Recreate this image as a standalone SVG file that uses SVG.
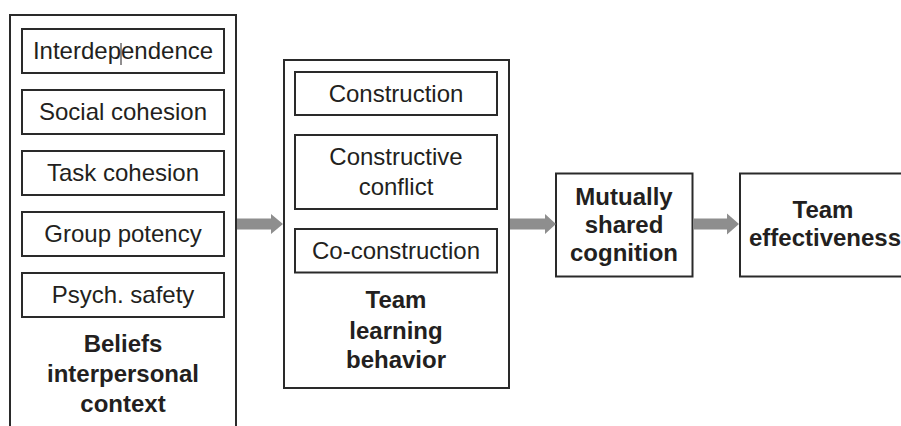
<svg xmlns="http://www.w3.org/2000/svg" width="901" height="426" viewBox="0 0 901 426">
  <defs>
    <style>
      .frame { fill: #ffffff; stroke: #2a2a2a; stroke-width: 2; }
      .item { fill: #ffffff; stroke: #2a2a2a; stroke-width: 2; }
      .txt { font-family: "Liberation Sans", Arial, sans-serif; font-size: 24px; fill: #231f20; text-anchor: middle; }
      .bold { font-weight: bold; }
      .flow { fill: #8e8e8e; }
    </style>
  </defs>
  <rect width="901" height="426" fill="#ffffff"/>

  <!-- Beliefs / interpersonal context -->
  <g id="beliefs">
    <rect class="frame" x="10" y="15" width="226" height="430"/>
    <g id="interdependence">
      <rect class="item" x="22" y="29" width="202" height="44"/>
      <text class="txt" x="123" y="59">Interdependence</text>
      <line x1="121" y1="43" x2="121" y2="65" stroke="#231f20" stroke-width="1"/>
    </g>
    <g id="social-cohesion">
      <rect class="item" x="22" y="90" width="202" height="44"/>
      <text class="txt" x="123" y="120">Social cohesion</text>
    </g>
    <g id="task-cohesion">
      <rect class="item" x="22" y="151" width="202" height="44"/>
      <text class="txt" x="123" y="181">Task cohesion</text>
    </g>
    <g id="group-potency">
      <rect class="item" x="22" y="212" width="202" height="44"/>
      <text class="txt" x="123" y="242">Group potency</text>
    </g>
    <g id="psych-safety">
      <rect class="item" x="22" y="273" width="202" height="44"/>
      <text class="txt" x="123" y="303">Psych. safety</text>
    </g>
    <text class="txt bold" x="123" y="352">Beliefs</text>
    <text class="txt bold" x="123" y="382">interpersonal</text>
    <text class="txt bold" x="123" y="412">context</text>
  </g>

  <!-- Team learning behavior -->
  <g id="learning">
    <rect class="frame" x="284" y="60" width="225" height="328"/>
    <g id="construction">
      <rect class="item" x="295" y="72" width="202" height="43"/>
      <text class="txt" x="396" y="102">Construction</text>
    </g>
    <g id="constructive-conflict">
      <rect class="item" x="295" y="135" width="202" height="74"/>
      <text class="txt" x="396" y="165">Constructive</text>
      <text class="txt" x="396" y="195">conflict</text>
    </g>
    <g id="co-construction">
      <rect class="item" x="295" y="229" width="202" height="43.5"/>
      <text class="txt" x="396" y="259">Co-construction</text>
    </g>
    <text class="txt bold" x="396" y="308">Team</text>
    <text class="txt bold" x="396" y="338.5">learning</text>
    <text class="txt bold" x="396" y="368">behavior</text>
  </g>

  <!-- Mutually shared cognition -->
  <g id="cognition">
    <rect class="frame" x="556" y="173.5" width="136.5" height="103"/>
    <text class="txt bold" x="624" y="205">Mutually</text>
    <text class="txt bold" x="624" y="233">shared</text>
    <text class="txt bold" x="624" y="261">cognition</text>
  </g>

  <!-- Team effectiveness -->
  <g id="effectiveness">
    <rect class="frame" x="740" y="173.5" width="180" height="103"/>
    <text class="txt bold" x="823" y="218">Team</text>
    <text class="txt bold" x="825" y="246">effectiveness</text>
  </g>

  <!-- Block arrows between stages -->
  <g id="connectors">
    <polygon class="flow" points="237,218.5 271,218.5 271,214 283,224 271,234 271,229.5 237,229.5"/>
    <polygon class="flow" points="510,218.5 545,218.5 545,214 556,224 545,234 545,229.5 510,229.5"/>
    <polygon class="flow" points="693,218.5 727,218.5 727,213.5 739,224 727,234.5 727,229.5 693,229.5"/>
  </g>
</svg>
